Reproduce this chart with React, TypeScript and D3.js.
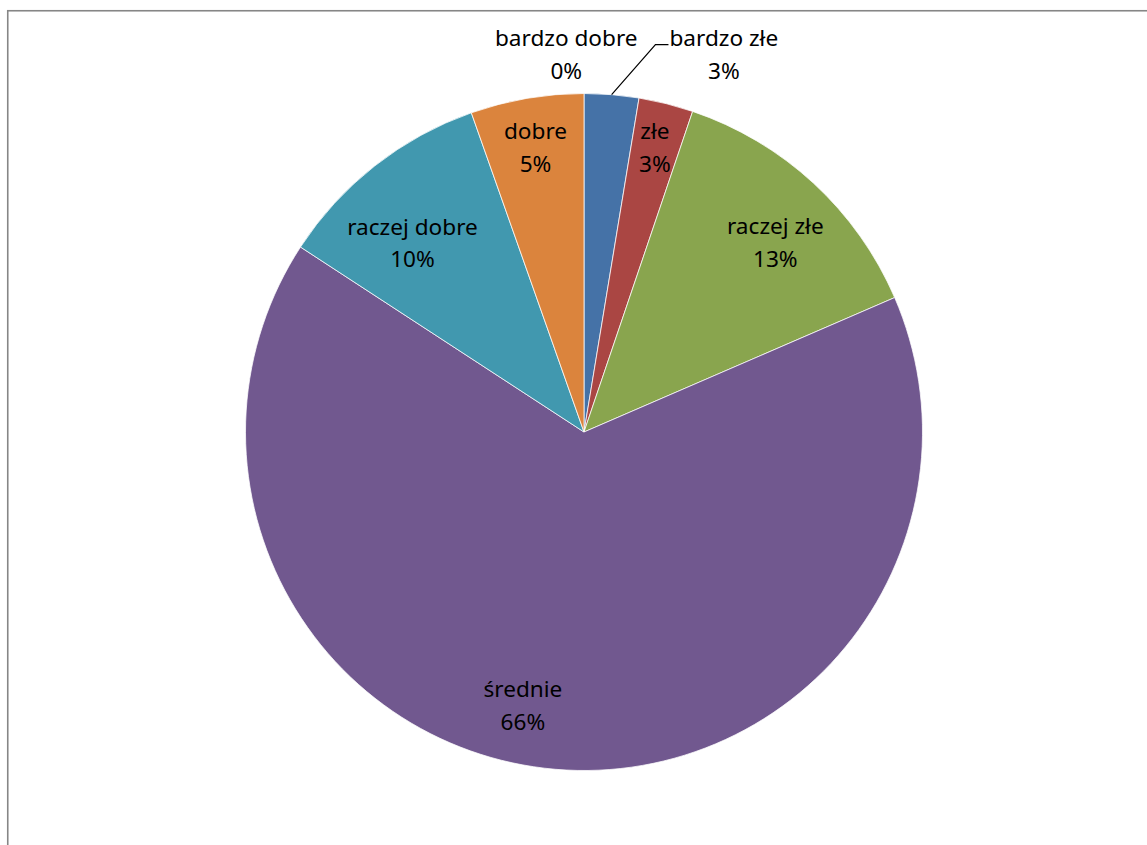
import React, { useEffect, useRef } from "react";
import * as d3 from "d3";

const categories = ["bardzo złe", "złe", "raczej złe", "średnie", "raczej dobre", "dobre", "bardzo dobre"];
const shares = [2.6, 2.6, 13.3, 65.7, 10.4, 5.4, 0];
const colors = ["#4572A7", "#AA4643", "#89A54E", "#71588F", "#4198AF", "#DB843D", "#93A9CF"];

// label placement: [radius factor, angle offset in degrees from slice mid-angle, outside with leader]
const labelPlacement: [number, number, boolean][] = [
  [1.186, 15.7, true],
  [0.863, 0, false],
  [0.793, 2.8, false],
  [0.83, 7.7, false],
  [0.752, -4.2, false],
  [0.849, 0, false],
  [1.114, -2.7, false],
];

const W = 1147;
const H = 845;
const CX = 584;
const CY = 432;
const R = 338.5;
const FONT = "'Noto Sans', 'Open Sans', sans-serif";
const FS = 22.6;

export default function App() {
  const ref = useRef<SVGSVGElement | null>(null);

  useEffect(() => {
    const svg = d3.select(ref.current);
    svg.selectAll("*").remove();

    svg
      .append("rect")
      .attr("x", 7.75)
      .attr("y", 10.75)
      .attr("width", 1300)
      .attr("height", 1000)
      .attr("fill", "#fff")
      .attr("stroke", "#868686")
      .attr("stroke-width", 1.6);

    const data = categories.map((c, i) => ({ name: c, value: shares[i], i }));
    const pie = d3
      .pie<any>()
      .sort(null)
      .value((d) => d.value)
      .startAngle(0)
      .endAngle(2 * Math.PI);
    const arcs = pie(data);
    const arcGen = d3.arc<any>().innerRadius(0).outerRadius(R);

    const g = svg.append("g").attr("transform", `translate(${CX},${CY})`);
    g.selectAll("path")
      .data(arcs.filter((a) => a.data.value > 0))
      .join("path")
      .attr("d", arcGen as any)
      .attr("fill", (d: any) => colors[d.data.i])
      .attr("stroke", "#ffffff")
      .attr("stroke-width", 0.75);

    arcs.forEach((a) => {
      const i = a.data.i;
      const [rf, off, leader] = labelPlacement[i];
      const mid = (a.startAngle + a.endAngle) / 2;
      const ang = mid + (off * Math.PI) / 180;
      const lx = Math.sin(ang) * R * rf;
      const ly = -Math.cos(ang) * R * rf;
      const t = g
        .append("text")
        .attr("font-family", FONT)
        .attr("font-size", FS)
        .attr("fill", "#000")
        .attr("text-anchor", "middle");
      t.append("tspan").attr("x", lx).attr("y", ly - 9.3).text(a.data.name);
      t.append("tspan")
        .attr("x", lx)
        .attr("y", ly + 23.5)
        .text(`${Math.round(a.data.value)}%`);
      if (leader) {
        const node = t.select("tspan").node() as SVGTextContentElement;
        const w = node.getComputedTextLength();
        const left = lx - w / 2;
        const px = Math.sin(mid) * R;
        const py = -Math.cos(mid) * R;
        const ky = ly - 11;
        g.append("path")
          .attr("d", `M${px},${py}L${left - 14},${ky}L${left - 1},${ky}`)
          .attr("fill", "none")
          .attr("stroke", "#000")
          .attr("stroke-width", 1.2);
      }
    });
  }, []);

  return (
    <svg
      ref={ref}
      width={W}
      height={H}
      style={{ position: "absolute", left: 0, top: 0, display: "block" }}
    />
  );
}
